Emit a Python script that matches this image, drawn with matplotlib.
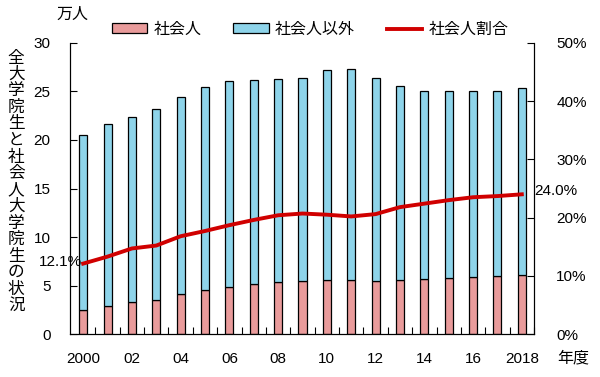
import matplotlib.pyplot as plt
import numpy as np

plt.rcParams['font.family'] = ['Liberation Sans', 'Noto Sans CJK JP']

# data (万人, %)
years = list(range(2000, 2019))
shakaijin = [2.47, 2.89, 3.30, 3.54, 4.09, 4.54, 4.85, 5.12, 5.36, 5.46,
             5.57, 5.53, 5.46, 5.57, 5.64, 5.74, 5.88, 5.94, 6.08]
total = [20.5, 21.6, 22.4, 23.2, 24.4, 25.5, 26.1, 26.2, 26.3, 26.4,
         27.2, 27.3, 26.4, 25.6, 25.1, 25.0, 25.0, 25.1, 25.4]
ratio = [12.1, 13.3, 14.7, 15.2, 16.8, 17.7, 18.7, 19.6, 20.4, 20.7,
         20.5, 20.2, 20.6, 21.8, 22.4, 23.0, 23.5, 23.7, 24.0]
tick_labels = ['2000', '02', '04', '06', '08', '10', '12', '14', '16', '2018']
ylabel = '全大学院生と社会人大学院生の状況'

others = [t - s for t, s in zip(total, shakaijin)]
x = np.arange(len(years))

fig = plt.figure(figsize=(6, 3.77), dpi=100)
ax = fig.add_axes([0.1167, 0.114, 0.7733, 0.772])

pink = '#E99B9B'
blue = '#8ED4EA'
ax.bar(x, shakaijin, width=0.33, color=pink, edgecolor='black', linewidth=0.9, label='社会人')
ax.bar(x, others, width=0.33, bottom=shakaijin, color=blue, edgecolor='black', linewidth=0.9, label='社会人以外')

ax.set_xlim(-0.54, 18.5)
ax.set_ylim(0, 30)
ax.set_yticks([0, 5, 10, 15, 20, 25, 30])
ax.tick_params(axis='y', direction='in', length=5, labelsize=11, pad=14)
ax.set_xticks(x + 0.5)
ax.set_xticklabels([])
ax.tick_params(axis='x', direction='in', length=5)
for i, lab in zip(range(0, 19, 2), tick_labels):
    ax.text(i, -2.6, lab, ha='center', va='center', fontsize=11)
ax.spines['top'].set_visible(False)

ax2 = ax.twinx()
ax2.plot(x, ratio, color='#D00000', linewidth=2.8, label='社会人割合')
ax2.set_ylim(0, 50)
ax2.set_yticks([0, 10, 20, 30, 40, 50])
ax2.set_yticklabels(['0%', '10%', '20%', '30%', '40%', '50%'])
ax2.tick_params(axis='y', direction='in', length=5, labelsize=11, pad=16)
ax2.spines['top'].set_visible(False)

ax2.text(x[0] - 0.05, ratio[0] + 0.3, '12.1%', ha='right', va='center', fontsize=11)
ax2.text(x[-1] + 0.5, ratio[-1] + 0.5, '24.0%', ha='left', va='center', fontsize=11)

# texts
fig.text(0.12, 0.962, '万人', ha='center', va='center', fontsize=11.5)
fig.text(0.955, 0.05, '年度', ha='center', va='center', fontsize=11.5)
# vertical label, one character per row
for k, ch in enumerate(ylabel):
    ypix = 58 + k * 16.5
    fig.text(0.027, 1 - ypix / 377, ch, ha='center', va='center', fontsize=12)

h1, l1 = ax.get_legend_handles_labels()
h2, l2 = ax2.get_legend_handles_labels()
fig.legend(h1 + h2, l1 + l2, loc='center', bbox_to_anchor=(0.517, 0.922), ncol=3,
           frameon=False, fontsize=11.5, handlelength=2.2, handleheight=0.6,
           columnspacing=2.0, handletextpad=0.4)

plt.savefig('out.png', dpi=100)
